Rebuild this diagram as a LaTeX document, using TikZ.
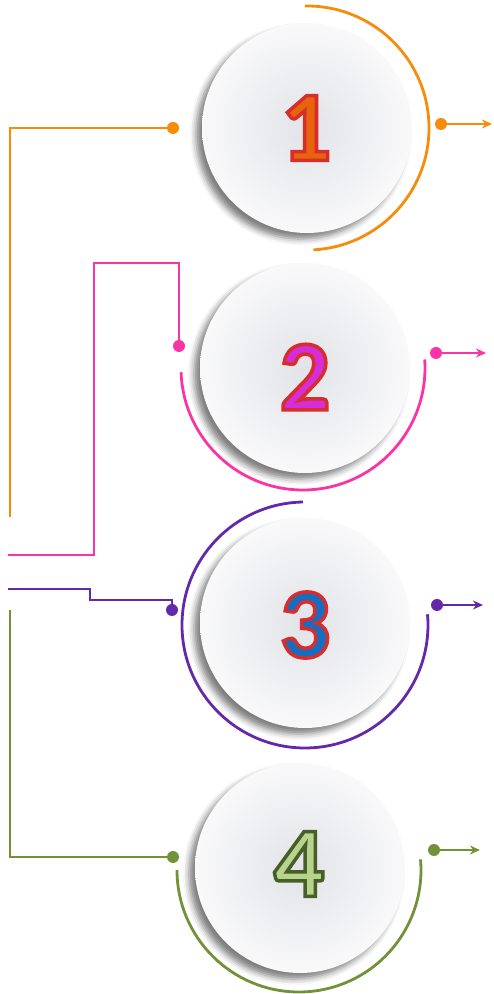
\documentclass[tikz,border=0pt]{standalone}
\usepackage{fontspec}
\newfontface\numfont{Carlito Bold}[FakeBold=3.5]
\usetikzlibrary{calc,arrows.meta,shadows.blur}

\definecolor{stepOrange}{RGB}{247,140,10}
\definecolor{stepPink}{RGB}{250,52,165}
\definecolor{stepPurple}{RGB}{100,40,170}
\definecolor{stepGreen}{RGB}{114,146,58}
\definecolor{bubbleIn}{RGB}{225,227,232}
\definecolor{bubbleOut}{RGB}{249,249,250}
\definecolor{numOrange}{RGB}{232,100,12}
\definecolor{numPink}{RGB}{214,46,214}
\definecolor{numBlue}{RGB}{22,110,192}
\definecolor{numGreen}{RGB}{184,212,140}

\tikzset{
  bubble/.style={circle, minimum size=210pt, inner sep=0pt,
    inner color=bubbleIn, outer color=bubbleOut,
    blur shadow={shadow xshift=-6pt, shadow yshift=-6pt,
      shadow blur radius=6pt, shadow opacity=50}},
  dot/.style={circle, fill=#1, minimum size=12pt, inner sep=0pt},
  wire/.style={draw=#1, line width=2.8pt},
  outarrow/.style={draw=#1, line width=2.2pt, -{Stealth[length=10pt,width=9pt]}},
  digit/.style={font=\numfont\fontsize{100}{100}\selectfont, inner sep=0pt},
}

% stroke colour of the digit rim (r g b)
\newcommand{\rim}[1]{\special{pdf:literal direct #1 RG}}

\begin{document}
\begin{tikzpicture}[x=1pt,y=1pt]
        \useasboundingbox (0,0) rectangle (493,994);

        % bubbles
        \node[bubble] (c1) at (307,866) {};
        \node[bubble] (c2) at (305,626) {};
        \node[bubble] (c3) at (305,371) {};
        \node[bubble] (c4) at (300,126) {};

        \node[digit, text=numOrange] (n1) at (306,866) {\rim{0.843 0.176 0.176}1};
        \node[digit, text=numPink]   (n2) at (305,617) {\rim{0.843 0.176 0.176}2};
        \node[digit, text=numBlue]   (n3) at (305,369) {\rim{0.843 0.176 0.176}3};
        \node[digit, text=numGreen]  (n4) at (299,130) {\rim{0.275 0.373 0.157}4};

        % rings round the bubbles
        \draw[wire=stepOrange] ($(c1)+(91:122)$) arc[start angle=91, end angle=-87, radius=122pt];
        \draw[wire=stepPink] ($(303,626)+(182:122)$) arc[start angle=182, end angle=364, radius=122pt];
        \draw[wire=stepPurple] ($(305,369)+(91:123)$) arc[start angle=91, end angle=365, radius=123pt];
        \draw[wire=stepGreen] ($(299,124)+(180:122)$) arc[start angle=180, end angle=365, radius=122pt];

        % left dots
        \node[dot=stepOrange] (l1) at (173,866) {};
        \node[dot=stepPink]   (l2) at (179,648) {};
        \node[dot=stepPurple] (l3) at (172,384) {};
        \node[dot=stepGreen]  (l4) at (173,137) {};

        % right dots
        \node[dot=stepOrange] (r1) at (441,870) {};
        \node[dot=stepPink]   (r2) at (436,641) {};
        \node[dot=stepPurple] (r3) at (437,389) {};
        \node[dot=stepGreen]  (r4) at (434,144) {};

        \coordinate (t1) at (492,870);
        \coordinate (t2) at (486,641);
        \coordinate (t3) at (483,389);
        \coordinate (t4) at (480,144);

        \draw[outarrow=stepOrange] (r1) -- (t1);
        \draw[outarrow=stepPink]   (r2) -- (t2);
        \draw[outarrow=stepPurple] (r3) -- (t3);
        \draw[outarrow=stepGreen]  (r4) -- (t4);

        % wires on the left
        \coordinate (e1) at (10,477);
        \coordinate (k2) at (94,731);
        \coordinate (e2) at (8,439);
        \coordinate (k3) at (90,394);
        \coordinate (e3) at (8,405);
        \coordinate (e4) at (10,384);

        \draw[wire=stepOrange] (l1) -| (e1);
        \draw[wire=stepPink]   (l2) |- (k2) |- (e2);
        \draw[wire=stepPurple] (l3) |- (k3) |- (e3);
        \draw[wire=stepGreen]  (l4) -| (e4);

\end{tikzpicture}
\end{document}
